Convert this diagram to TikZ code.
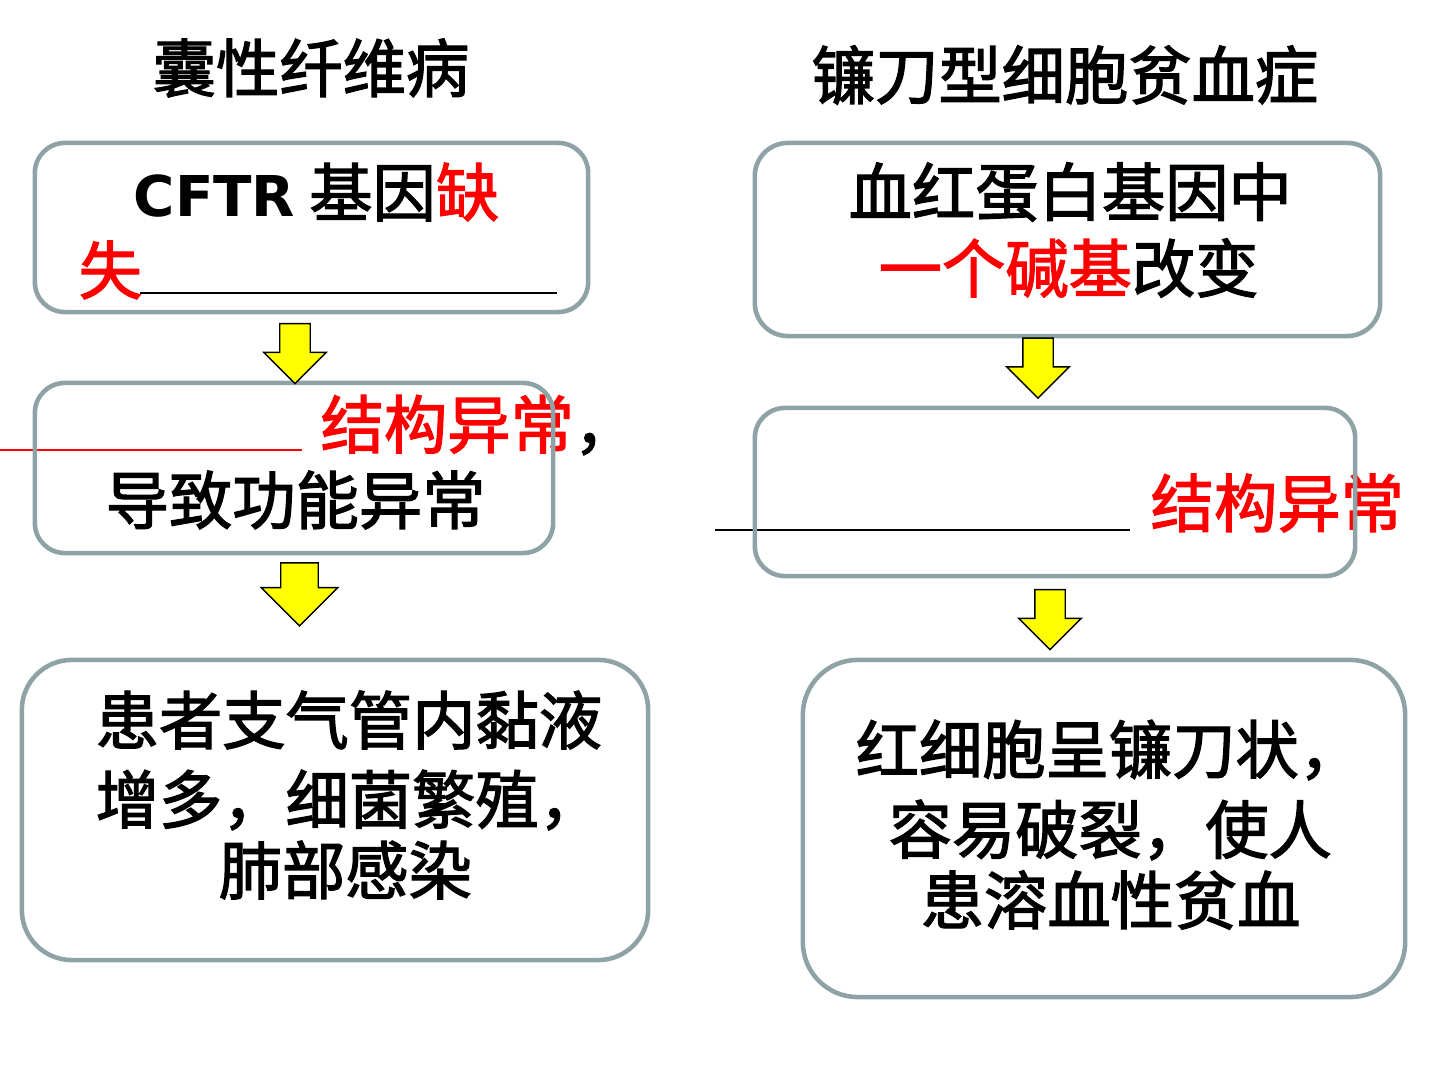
\documentclass[tikz,border=0pt]{standalone}
\usepackage{fontspec}
\setmainfont{Noto Sans CJK SC}
\newfontfamily\cjkmid{Noto Sans CJK SC}[FakeBold=2]
\newfontfamily\latinbold{DejaVu Sans}
\usepackage{xcolor}
\usetikzlibrary{shapes.arrows}
\definecolor{boxgray}{HTML}{8FA3A6}
\definecolor{arrowyellow}{HTML}{FFFF00}
\tikzstyle{box}      = [draw=boxgray, line width=1.3pt, rectangle, inner sep=0pt, outer sep=0pt]
\tikzstyle{txt}      = [inner sep=0pt, anchor=west, font=\cjkmid\fontsize{18}{20}\selectfont]
\tikzstyle{title}    = [inner sep=0pt, font=\cjkmid\fontsize{18}{20}\selectfont]
\tikzstyle{downarrow} = [draw=black, fill=arrowyellow, thin, single arrow, shape border rotate=270, minimum height=0.6cm, inner sep=0.145cm, single arrow head extend=0.16cm, outer sep=0pt]
\tikzstyle{blank}    = [thick, line cap=butt]

\begin{document}
\begin{tikzpicture}[x=0.01cm, y=-0.01cm]
\useasboundingbox (0,0) rectangle (1440,1080);

% titles
\node[title] (TL) at (311,68) {囊性纤维病};
\node[title] (TR) at (1065,75) {镰刀型细胞贫血症};

% left column text
\node[txt] (L11) at (133,192) {{\latinbold\fontsize{16}{18}\selectfont\bfseries CFTR} 基因\textcolor{red}{缺}};
\node[txt] (L12) at (78,270) {\textcolor{red}{失}};
\draw[blank] (140,293) -- (557,293);

\draw[blank, red] (0,450) -- (302,450);
\node[txt] (L21) at (320,425) {\textcolor{red}{结构异常}，};
\node[txt] (L22) at (105,500) {导致功能异常};

\node[txt] (L31) at (95,720) {患者支气管内黏液};
\node[txt] (L32) at (95,800) {增多，细菌繁殖，};
\node[txt] (L33) at (218,870) {肺部感染};

% right column text
\node[txt] (R11) at (848,192) {血红蛋白基因中};
\node[txt] (R12) at (878,268) {\textcolor{red}{一个碱基}改变};

\draw[blank] (715,530) -- (1130,530);
\node[txt] (R21) at (1150,503) {\textcolor{red}{结构异常}};

\node[txt] (R31) at (855,750) {红细胞呈镰刀状，};
\node[txt] (R32) at (888,830) {容易破裂，使人};
\node[txt] (R33) at (920,900) {患溶血性贫血};

% boxes
\node[box, rounded corners=0.3cm, minimum width=5.53cm, minimum height=1.69cm] (B1) at (311.5,227.5) {};
\node[box, rounded corners=0.3cm, minimum width=5.18cm, minimum height=1.70cm] (B2) at (294,468) {};
\node[box, rounded corners=0.5cm, minimum width=6.26cm, minimum height=3.00cm] (B3) at (335,810) {};
\node[box, rounded corners=0.33cm, minimum width=6.25cm, minimum height=1.93cm] (B4) at (1067.5,239.5) {};
\node[box, rounded corners=0.3cm, minimum width=6.00cm, minimum height=1.68cm] (B5) at (1055,492) {};
\node[box, rounded corners=0.55cm, minimum width=6.02cm, minimum height=3.37cm] (B6) at (1104,828.5) {};

% arrows
\node[downarrow] (A1) at (295,346) {};
\node[downarrow, minimum height=0.63cm, inner sep=0.18cm, single arrow head extend=0.195cm] (A2) at (299.5,585) {};
\node[downarrow] (A3) at (1038,360.5) {};
\node[downarrow] (A4) at (1050,612) {};

\end{tikzpicture}
\end{document}
